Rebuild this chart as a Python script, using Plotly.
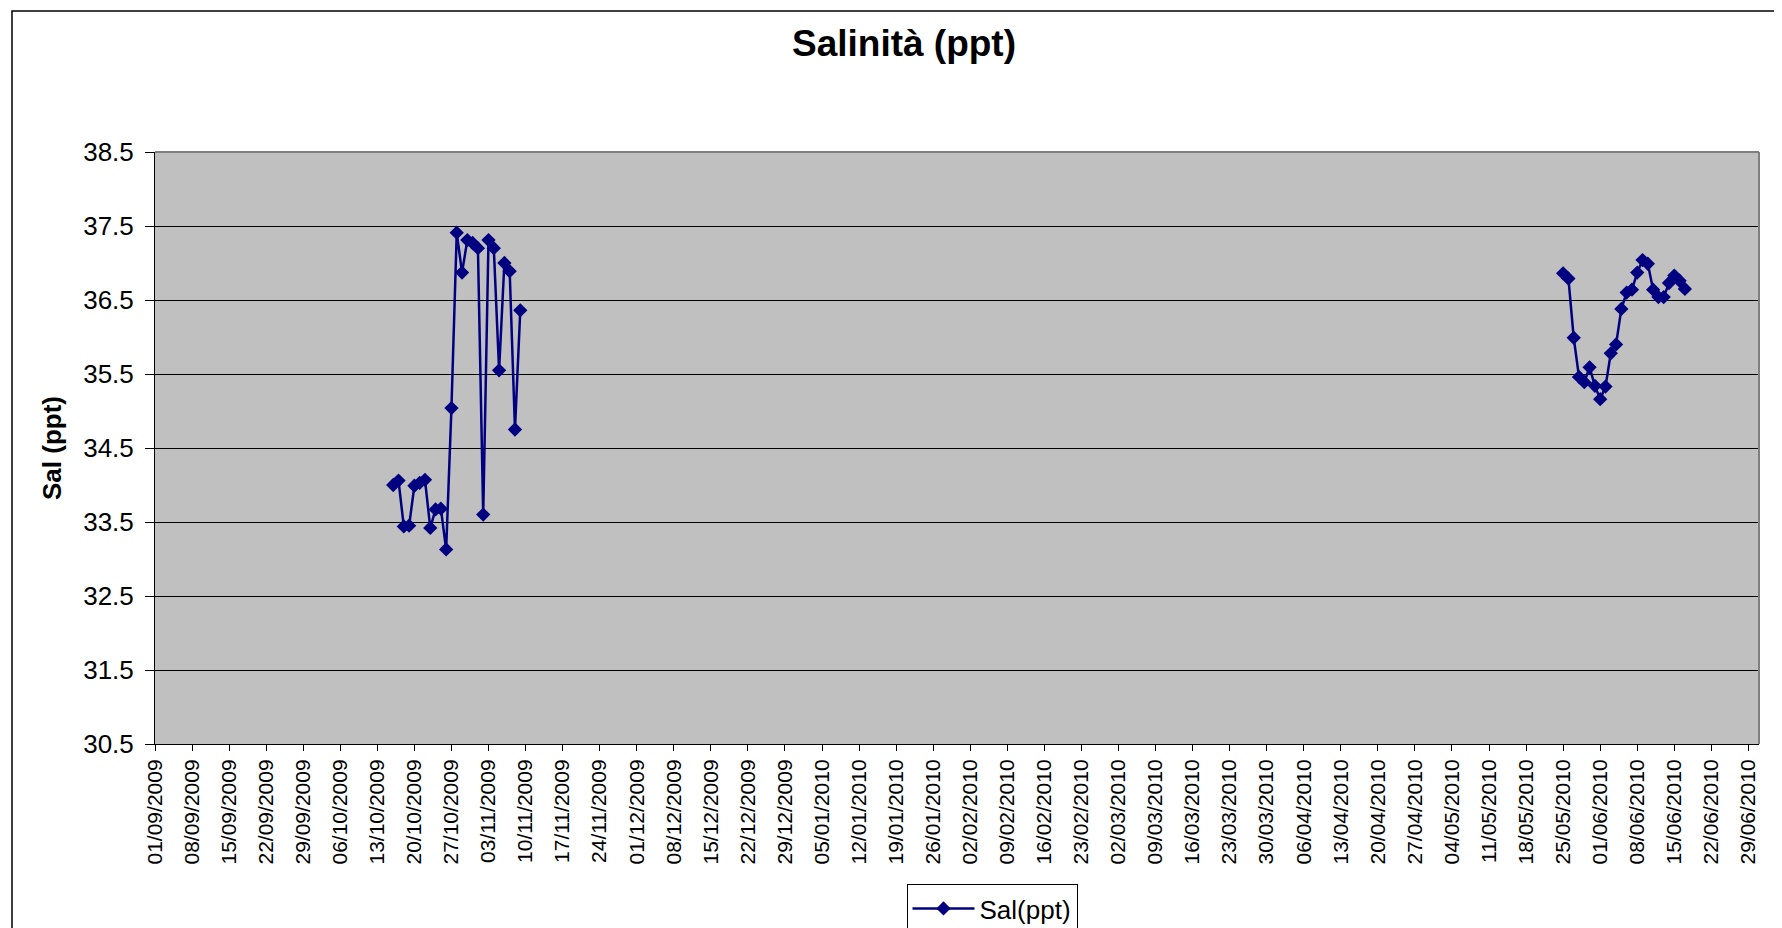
import plotly.graph_objects as go

# ---- data ----
dates_autumn = [
    "2009-10-16", "2009-10-17", "2009-10-18", "2009-10-19", "2009-10-20",
    "2009-10-21", "2009-10-22", "2009-10-23", "2009-10-24", "2009-10-25",
    "2009-10-26", "2009-10-27", "2009-10-28", "2009-10-29", "2009-10-30",
    "2009-10-31", "2009-11-01", "2009-11-02", "2009-11-03", "2009-11-04",
    "2009-11-05", "2009-11-06", "2009-11-07", "2009-11-08", "2009-11-09",
]
sal_autumn = [
    34.00, 34.06, 33.44, 33.45, 33.99,
    34.03, 34.07, 33.42, 33.67, 33.68,
    33.13, 35.04, 37.41, 36.87, 37.31,
    37.27, 37.20, 33.60, 37.31, 37.20,
    35.55, 37.00, 36.89, 34.75, 36.36,
]
dates_summer = [
    "2010-05-25", "2010-05-26", "2010-05-27", "2010-05-28", "2010-05-29",
    "2010-05-30", "2010-05-31", "2010-06-01", "2010-06-02", "2010-06-03",
    "2010-06-04", "2010-06-05", "2010-06-06", "2010-06-07", "2010-06-08",
    "2010-06-09", "2010-06-10", "2010-06-11", "2010-06-12", "2010-06-13",
    "2010-06-14", "2010-06-15", "2010-06-16", "2010-06-17",
]
sal_summer = [
    36.86, 36.79, 35.99, 35.46, 35.39,
    35.59, 35.34, 35.16, 35.33, 35.78,
    35.90, 36.38, 36.60, 36.64, 36.87,
    37.04, 36.99, 36.64, 36.54, 36.54,
    36.73, 36.83, 36.76, 36.65,
]
y_ticks = [30.5, 31.5, 32.5, 33.5, 34.5, 35.5, 36.5, 37.5, 38.5]
x_range = ["2009-09-01", "2010-07-01"]

# gap between the two campaigns (empty cells in the sheet)
x_all = dates_autumn + ["2010-01-01"] + dates_summer
y_all = sal_autumn + [None] + sal_summer

# the page body has an 8px margin, so the figure is placed at (8, 8)
OFF = 8
W, H = 1782 - OFF, 928 - OFF
ML, MT = 155 - OFF, 152 - OFF
PW, PH = 1759 - 155, 744 - 152
MR, MB = W - ML - PW, H - MT - PH

FONT = "Arial, 'Liberation Sans', sans-serif"

fig = go.Figure()
fig.add_trace(go.Scatter(
    x=x_all, y=y_all, name="Sal(ppt)", mode="lines+markers",
    connectgaps=False,
    line=dict(color="#000080", width=2.5),
    marker=dict(symbol="diamond", size=11, color="#000080"),
))

def px_x(page_x):
    return (page_x - OFF - ML) / PW

def px_y(page_y):
    return (MT + PH - (page_y - OFF)) / PH

shapes = [
    # outer chart frame (extends beyond the captured area)
    dict(type="rect", xref="paper", yref="paper",
         x0=px_x(12), x1=px_x(1800), y0=px_y(950), y1=px_y(11),
         line=dict(color="#000000", width=1.5), fillcolor="rgba(0,0,0,0)", layer="below"),
    # plot area border top/right (grey)
    dict(type="line", xref="paper", yref="paper", x0=0, x1=1, y0=1, y1=1,
         line=dict(color="#808080", width=2), layer="above"),
    dict(type="line", xref="paper", yref="paper", x0=1, x1=1, y0=0, y1=1,
         line=dict(color="#808080", width=2), layer="above"),
]

fig.update_layout(
    width=W, height=H,
    margin=dict(l=ML, r=MR, t=MT, b=MB, autoexpand=False),
    paper_bgcolor="white",
    plot_bgcolor="#C0C0C0",
    font=dict(family=FONT, color="black"),
    title=dict(text="<b>Salinità (ppt)</b>", x=(904 - OFF) / W, xref="container", xanchor="center",
               y=1 - (43 - OFF) / H, yref="container", yanchor="middle",
               font=dict(size=37, family=FONT, color="black")),
    showlegend=True,
    legend=dict(x=px_x(992), xanchor="center", y=px_y(884), yanchor="top",
                bgcolor="white", bordercolor="black", borderwidth=1,
                font=dict(size=26, family=FONT), itemwidth=62),
    shapes=shapes,
    xaxis=dict(
        type="date", range=x_range, automargin=False,
        tick0="2009-09-01", dtick=7 * 24 * 3600 * 1000,
        tickformat="%d/%m/%Y", tickangle=-90,
        tickfont=dict(size=21, family=FONT),
        ticks="outside", ticklen=6, tickcolor="black",
        showgrid=False, zeroline=False,
        showline=True, linecolor="black", linewidth=1,
    ),
    yaxis=dict(
        range=[30.5, 38.5], tickvals=y_ticks, ticktext=[f"{v:.1f}" for v in y_ticks],
        automargin=False,
        tickfont=dict(size=26, family=FONT),
        ticks="outside", ticklen=9, tickcolor="black", ticklabelstandoff=6,
        showgrid=True, gridcolor="#000000", gridwidth=1,
        zeroline=False,
        showline=True, linecolor="black", linewidth=1,
        title=dict(text="<b>Sal (ppt)</b>", font=dict(size=26, family=FONT), standoff=14),
    ),
)

fig.write_html("out.html")
